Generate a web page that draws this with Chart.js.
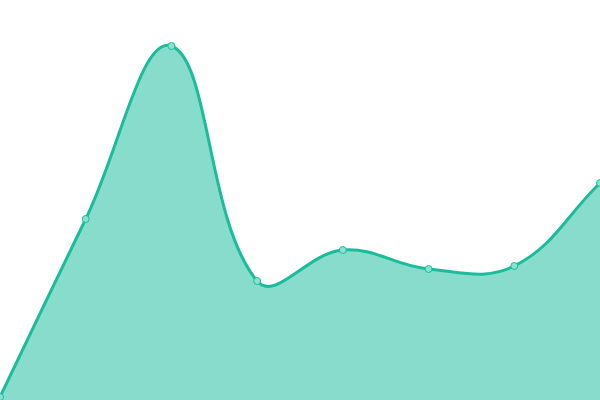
<!DOCTYPE html>
<html lang="en">
<head>
  <meta charset="UTF-8" />
  <title>Area Line</title>
  <script src="https://cdn.jsdelivr.net/npm/chart.js"></script>
  <style>
    * { margin: 0; padding: 0; box-sizing: border-box; }
    body { background: #fff; }
    .wrap { width: 600px; height: 400px; }
  </style>
</head>
<body>
  <div class="wrap"><canvas id="chart"></canvas></div>
  <script>
    // data (no axes shown)
    const labels = ['1', '2', '3', '4', '5', '6', '7', '8'];
    const values = [3, 181, 354, 119, 150, 131, 134, 217];

    new Chart(document.getElementById('chart'), {
      type: 'line',
      data: {
        labels: labels,
        datasets: [{
          data: values,
          fill: 'origin',
          borderColor: '#1abc9c',
          backgroundColor: 'rgba(26, 188, 156, 0.52)',
          borderWidth: 3,
          tension: 0.4,
          pointRadius: 3.5,
          pointBorderWidth: 1,
          pointBackgroundColor: '#8cdfcf',
          pointBorderColor: '#1abc9c'
        }]
      },
      options: {
        responsive: true,
        maintainAspectRatio: false,
        animation: false,
        layout: { padding: 0, autoPadding: false },
        plugins: { legend: { display: false }, tooltip: { enabled: false } },
        scales: {
          x: { display: false },
          y: { display: false, min: 0, max: 400 }
        }
      }
    });
  </script>
</body>
</html>
